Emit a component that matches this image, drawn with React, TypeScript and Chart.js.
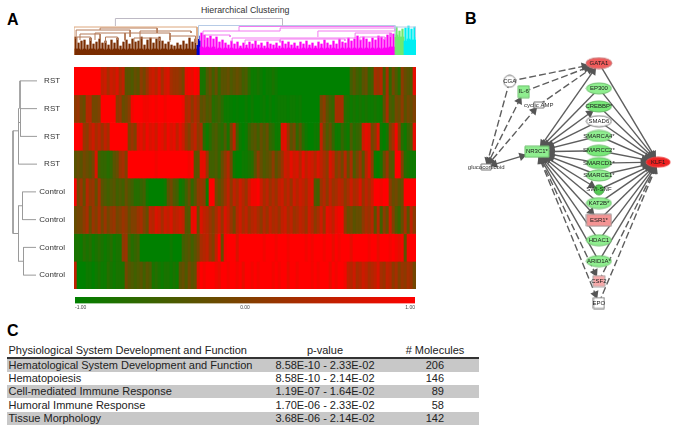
import React, { useEffect, useRef } from "react";
import { Chart, registerables } from "chart.js";
Chart.register(...registerables);

const FONT = "'Liberation Sans', Arial, sans-serif";

/* ---------- heat map ---------- */
const sampleLabels = ["RST", "RST", "RST", "RST", "Control", "Control", "Control", "Control"];
const rowA = [1,1,1,1,1,1,1,1,1,.5,
  .6,.3,.6,.5,.7,.3,.5,-.3,-.3,-.4,
  -.2,-.3,.1,-.1,.2,.5,.6,.4,.7,.3,
  .6,.7,.3,.2,.2,.1,-.1,.8,.9,.8,
  1,.9,-.8,-.8,-.4,-.2,-.5,-.2,-.6,-.3,
  -.3,-.2,-.4,-.3,-.2,-.3,-.5,-.4,-.7,-.9,
  -.9,-.8,-.9,-1,-.9,-.9,-.8,-.9,-1,-1,
  -1,-1,-1,-1,-1,-1,-1,-1,-1,-1,
  -1,-1,-1,-1,-1,-1,-1,-1,-1,-1,
  -1,-1,-.5,-.3,-.5,-.6,-.3,-.2,-.6,-.5,
  .3,.2,.4,-.5,.3,-.6,-.1,-.4,-.7,.1,
  -.2,-.3,-.4,.8];
const rowB = [.1,.2,-.1,-.2,.4,.4,-.1,-.1,0,1,
  1,1,1,1,.1,.2,-.2,-.1,.1,.9,
  1,1,1,.9,.9,.95,1,.9,1,1,
  .9,1,1,1,1,1,.9,.3,.4,.1,
  .4,.2,-.3,-.2,-.4,-.3,-.7,-.6,-.5,-.7,
  -.9,-.9,-.95,-1,-.95,-1,-1,-.9,-1,-.9,
  -1,-1,-.95,-.9,-1,-.9,-1,-.95,-.9,-.9,
  -.9,-.95,-.9,-.9,-.95,-.9,-1,-1,-1,-1,
  -1,-1,-.1,.1,-.3,-.5,-.6,.3,.3,.3,
  -.7,-.8,-.9,-.8,-.9,-.8,-.9,-.8,-.9,-.9,
  -.8,-.9,-.9,-.3,.3,-.4,-.5,-.1,-.2,.1,
  -.3,-.1,-.2,0];
const rowC = [1,1,.9,.2,.1,.4,.6,.3,.5,.2,
  .5,.3,1,1,1,1,1,1,0,.2,
  0,.7,.8,.6,.9,.7,.8,.6,.9,.8,
  .6,.9,.7,.8,.5,.8,.6,.2,0,.3,
  .5,.1,.3,-.7,-.9,-.7,-.5,-.4,-.6,-.7,
  -.4,-.8,-.1,.5,-.5,-.9,-1,-.9,-.6,-.4,
  -.3,-.5,-.2,-.4,-.2,-.6,-.7,-.9,-.9,.7,
  .8,.2,-.3,-.1,-.6,-.3,-.7,-.9,-1,-1,
  -.9,-.9,.5,-.1,-.4,-.2,-.6,-.9,-.9,-.6,
  -.8,-.9,-.4,-.7,-.6,-.5,.6,.8,.7,-.1,
  .1,.7,-.9,-1,-.8,0,.3,.9,.1,-.7,
  -.9,-.6,-.4,.8];
const rowD = [-.3,-.2,-.3,-.1,-.2,-.3,-.1,.7,-.5,-.6,
  -.6,-.7,-.6,-.3,-.2,.2,.3,0,1,1,
  1,1,1,1,1,1,1,.9,1,1,
  1,1,1,1,1,1,1,1,.9,1,
  -.3,-.3,.8,.8,.2,-.5,-.5,-.4,-.6,-.2,
  .1,.4,-.1,-.9,-1,-1,-.9,-.9,-.8,-.7,
  -.3,.1,-.2,-.4,-.3,-.2,.1,-.3,-.1,.2,
  .6,.5,.8,.6,.7,.4,.8,.5,.7,.6,
  .4,.7,.5,.3,.1,.7,.5,0,.2,-.1,
  .4,-.2,.3,-.4,-.1,.2,-.3,.4,.7,.1,
  -.9,-1,-.8,-.2,.2,-.3,-.4,1,1,0,
  -.7,-.8,-.9,-.9];
const rowE = [.9,-.1,.2,-.2,.4,.1,.2,-.2,.3,-.3,
  -.4,-.5,-.4,-.3,-.5,-.4,-.5,-.2,-.4,-.5,
  -.7,-.7,-.6,-.5,-.9,-1,-1,-1,-1,-1,
  -.9,-.3,-.1,-.4,-.5,-.9,-.8,-.5,-.2,-.6,
  -.3,.1,.2,.1,-.9,1,1,-.1,-.3,-.1,
  .2,.5,.1,.5,.3,.6,.4,.2,.6,.9,
  .9,1,.6,.3,.5,.2,.4,.2,.5,.6,
  .3,.5,.2,.6,.4,.6,.5,.3,.6,.7,
  -.4,-.5,.2,.4,.1,.5,.2,.3,.5,.4,
  .1,.3,.6,.3,.4,.7,.2,.5,.3,.6,
  1,1,.9,1,1,.1,-.2,-.1,-.3,-.2,
  1,1,1,1];
const rowF = [-.2,-.1,-.1,.1,.3,-.2,.2,0,.3,-.1,
  .2,-.1,.1,.2,-.1,0,.2,.1,-.2,0,
  0,.2,.3,0,-.2,.5,.4,.7,.6,.3,
  .6,.5,.7,.4,.5,.6,.5,-.3,-.4,.8,
  .9,-.2,.7,.5,.4,.2,0,.3,.6,.2,
  .7,.5,.2,-.1,.4,.6,.3,.5,.2,.4,
  .5,.3,.1,.4,.2,.5,.3,.4,.2,.5,
  .6,.3,.5,.2,.3,.5,.4,.2,.6,.4,
  .1,.3,.6,.2,.8,.7,.5,.8,.9,.9,
  .1,-.2,-.1,-.3,-.2,-.2,.1,.3,.2,.4,
  -.3,.4,-.5,.1,-.2,.6,0,-.4,-.6,-.2,
  .3,-.3,.5,.1];
const rowG = [-.8,-.8,-.9,-.7,-.8,-.7,-.9,-.8,-.7,-.8,
  -.9,-.8,-.7,-.9,-.8,-.8,.1,.2,-.5,-.7,
  -.6,-.5,-1,-1,-1,-1,-1,-1,-1,-1,
  -1,-1,-.9,-1,-1,-1,-.5,-.4,-.3,-.5,
  -.3,-.1,.3,.4,.5,.2,0,.5,1,-.2,
  .9,1,1,1,.7,1,1,1,1,1,
  1,1,1,.9,1,1,1,.9,1,1,
  1,.9,1,1,1,1,1,.9,1,.9,
  1,1,1,.9,1,1,.8,1,.9,1,
  1,1,.8,1,1,1,1,1,.9,1,
  1,.8,1,1,1,.9,1,.9,.8,.9,
  -.3,.9,1,1];
const rowH = [.5,-1,-1,-1,-.9,-.9,-1,-.9,-.8,-.9,
  -.9,-.7,-.8,-.9,-.8,-.8,-.8,-.1,-.3,-.4,
  -.5,-.4,-.3,-.5,-.3,-.4,-.8,-.7,-.8,-.9,
  -.8,-.8,-.9,-.8,-.9,-.3,-.2,-.4,-.1,-.3,
  -.2,.7,1,.9,1,1,1,.9,.8,1,
  1,.9,1,1,.9,1,.8,1,1,.9,
  1,.9,1,1,1,1,.9,1,.9,1,
  1,.8,1,1,.9,1,1,1,1,.9,
  1,.9,1,1,1,.8,1,.9,1,1,
  .9,.5,.4,.6,.3,.4,.6,.5,.3,.4,
  .5,.7,.3,.2,.5,.4,.1,.3,0,.2,
  .1,.3,.2,-.1];
const heatRows = [rowA, rowB, rowC, rowD, rowE, rowF, rowG, rowH];

/* ---------- sample dendrogram: [x1, y1, x2, y2] in distance / row units ---------- */
const sampleTree = [
  [20,.5,37,.5],[20,1.5,37,1.5],[20.5,2.5,37,2.5],[18.5,3.5,37,3.5],
  [22.5,4.5,36,4.5],[22.5,5.5,36,5.5],[23.5,6.5,36,6.5],[23.5,7.5,36,7.5],
  [20,.5,20,1.5],[20.5,1.5,20.5,2.5],[19,2,20.5,2],[18.5,1.5,18.5,3.5],
  [13,2.3,19,2.3],[13,2.3,13,6],[13,6,18.5,6],[18.5,5,18.5,7],
  [18.5,5,22.5,5],[22.5,4.5,22.5,5.5],[18.5,7,23.5,7],[23.5,6.5,23.5,7.5],
];

/* ---------- gene dendrogram ---------- */
const stemHeights = [18,12,14,15,10,17,11,13,16,12,
  14,10,15,12,17,9,13,15,11,16,
  13,14,18,10,15,17,12,16,18,14,
  11,13,10,9,12,10,14,11,17,13,
  16,19,22,20,17,19,16,18,13,15,
  12,10,14,11,13,9,12,10,13,11,
  14,10,12,9,13,11,10,12,9,14,
  11,13,10,12,9,13,11,14,10,12,
  9,13,11,15,12,10,14,11,16,13,
  12,17,14,16,19,15,18,16,13,17,
  15,19,18,16,20,22,21,28,24,26,
  27,29,26,28];
const baseHeights = [6,6,5,6,5,6,6,5,6,6,
  5,6,5,6,6,5,6,5,6,6,
  5,6,6,5,6,5,6,6,5,6,
  6,5,6,5,6,6,5,6,6,5,
  6,14,8,7,8,7,8,6,7,6,
  7,6,7,6,6,7,6,7,6,6,
  7,6,7,6,7,6,6,7,6,7,
  6,7,6,7,6,6,7,6,7,6,
  7,6,7,6,7,6,7,6,6,7,
  6,7,6,7,6,7,6,7,6,7,
  6,7,6,7,7,8,8,20,18,18,
  14,16,15,15];
const clusterSizes = [41, 1, 65, 3, 4];
const clusterColors = ["#7a2c00", "#0000cc", "#ff00f5", "#6fe96f", "#00eef2"];
/* [left, right, top, leftFoot, rightFoot] */
const rootBracket = [[13.8,69.5,36.5,29,29.5]];
const tanBrackets = [[0,41,28,0,10]];
const brownBrackets = [[.7,18.7,25,16,18],[8.7,27.7,27,25,22],[2,8.7,21,15,16],[7,17,22,15,15],[17,32,22,14,15],[22,39,24,14,22],[1,5.5,18,12,14],[10.5,14.5,18,12,15],[20,28.5,17,13,14],[32,40.5,19,13,12]];
const paleBrackets = [[41.5,107,29.5,16,26],[107,114,28,18,18]];
const magentaBrackets = [[55,107,28.5,24,26],[68.7,107,27,24,24],[81.3,107,24,18,24],[43,68.7,24,20,24],[43.7,52,20,15,18],[52.7,93.7,17,13,18],[68.7,90.3,16,12,14],[93.7,105.3,22,16,18],[95.3,103.7,18,14,15],[57,68.7,15,11,13]];

/* ---------- network ---------- */
const nodeNames = ["GATA1","EP300","CREBBP*","SMAD6","SMARCA4*","SMARCC2*","SMARCD1*","SMARCE1*","SWI-SNF","KAT2B*","ESR1*","HDAC1","ARID1A*","CSF2","EPO","KLF1","NR3C1*","CGA","IL-6","cyclic AMP","glucocorticoid"];
const nodeX = [601,601,601,601,601,601,601,601,601,601,601,601,601,601,601,664,535,506,521,537,481];
const nodeY = [57,83.5,102.5,118,133.5,149,162,175,190,204,222,243,265,286,309,161,150,76,87,101,166];
const edgeFrom = ["CGA","IL-6","cyclic AMP","CGA","glucocorticoid","glucocorticoid","glucocorticoid","NR3C1*","NR3C1*","NR3C1*","NR3C1*","NR3C1*","NR3C1*","NR3C1*","NR3C1*","NR3C1*","NR3C1*","NR3C1*","NR3C1*","NR3C1*","NR3C1*","NR3C1*","GATA1","EP300","CREBBP*","SMAD6","SMARCA4*","SMARCC2*","SMARCD1*","SMARCE1*","SWI-SNF","KAT2B*","ESR1*","HDAC1","ARID1A*","CSF2","EPO"];
const edgeTo = ["GATA1","GATA1","GATA1","glucocorticoid","IL-6","cyclic AMP","NR3C1*","GATA1","EP300","CREBBP*","SMAD6","SMARCA4*","SMARCC2*","SMARCD1*","SMARCE1*","SWI-SNF","KAT2B*","ESR1*","HDAC1","ARID1A*","CSF2","EPO","KLF1","KLF1","KLF1","KLF1","KLF1","KLF1","KLF1","KLF1","KLF1","KLF1","KLF1","KLF1","KLF1","KLF1","KLF1"];
const dashedEdges = [0,1,2,3,4,5,20,21,35,36];
const arrowAtStart = [4,5,6,7,8,9,10,11,12,13,14,15,16,17,18,19,20,21];
const arrowAtEnd = [0,1,2,3,4,5,6,7,9,15,17,20,21,22,23,24,25,26,27,28,29,30,31,32,33,34,35,36];

/* ---------- table ---------- */
const tableHeader = ["Physiological System Development and Function", "p-value", "# Molecules"];
const tableNames = ["Hematological System Development and Function", "Hematopoiesis", "Cell-mediated Immune Response", "Humoral Immune Response", "Tissue Morphology"];
const tablePValues = ["8.58E-10 - 2.33E-02", "8.58E-10 - 2.14E-02", "1.19E-07 - 1.64E-02", "1.70E-06 - 2.33E-02", "3.68E-06 - 2.14E-02"];
const tableMolecules = [206, 146, 89, 58, 142];

function heatColor(v: number) {
  const t = (v + 1) / 2;
  return `rgb(${Math.round(255 * t)},${Math.round(128 * (1 - t))},0)`;
}

const hidden = { display: false };
const quiet = { legend: { display: false }, tooltip: { enabled: false }, title: { display: false } };

function heatConfig(): any {
  const cols = rowA.map((_, i) => String(i + 1));
  return {
    type: "bar",
    data: {
      labels: cols,
      datasets: heatRows.map((r) => ({
        data: r.map(() => 1),
        backgroundColor: r.map(heatColor),
        borderWidth: 0,
        barPercentage: 1,
        categoryPercentage: 1,
        stack: "s",
      })),
    },
    options: {
      animation: false, responsive: false, plugins: quiet,
      layout: { padding: 0 },
      scales: {
        x: { display: false, stacked: true },
        y: {
          stacked: true, reverse: true, min: 0, max: 8, offset: false,
          border: { display: false }, grid: { display: false, drawTicks: false },
          afterBuildTicks: (s: any) => { s.ticks = sampleLabels.map((_, i) => ({ value: i + .5 })); },
          afterFit: (s: any) => { s.width = 74; s.paddingTop = 0; s.paddingBottom = 0; },
          ticks: {
            autoSkip: false, crossAlign: "center", padding: 9, color: "#333",
            font: { family: FONT, size: 8 },
            callback: (v: number) => sampleLabels[Math.floor(v)],
          },
        },
      },
    },
  };
}

function treeConfig(): any {
  return {
    type: "scatter",
    data: {
      datasets: sampleTree.map((s) => ({
        data: [{ x: s[0], y: s[1] }, { x: s[2], y: s[3] }],
        showLine: true, borderColor: "#9a9a9a", borderWidth: 1, pointRadius: 0,
      })),
    },
    options: {
      animation: false, responsive: false, plugins: quiet,
      scales: { x: { ...hidden, min: 0, max: 40 }, y: { ...hidden, min: 0, max: 8, reverse: true } },
    },
  };
}

function bracketSets(list: number[][], color: string) {
  return list.map((b) => ({
    type: "line",
    data: [{ x: b[0], y: b[3] }, { x: b[0], y: b[2] }, { x: b[1], y: b[2] }, { x: b[1], y: b[4] }],
    borderColor: color, borderWidth: 1, pointRadius: 0, tension: 0,
  }));
}

function geneTreeConfig(): any {
  const colors: string[] = [];
  clusterSizes.forEach((n, c) => { for (let i = 0; i < n; i++) colors.push(clusterColors[c]); });
  const xy = (a: number[]) => a.map((y, i) => ({ x: i + .5, y }));
  return {
    type: "bar",
    data: {
      datasets: [
        ...bracketSets(rootBracket, "#bdb9c4"),
        ...bracketSets(tanBrackets, "#dca67c"),
        ...bracketSets(paleBrackets, "#b6cbe6"),
        ...bracketSets(brownBrackets, "#b47a58"),
        ...bracketSets(magentaBrackets, "#f27af0"),
        { data: xy(baseHeights), backgroundColor: colors, barThickness: 3.1, borderWidth: 0, grouped: false },
        { data: xy(stemHeights), backgroundColor: colors, barThickness: 1.6, borderWidth: 0, grouped: false },
      ],
    },
    options: {
      animation: false, responsive: false, plugins: quiet,
      scales: { x: { type: "linear", offset: false, display: false, min: 0, max: 114 }, y: { display: false, min: 0, max: 38 } },
    },
  };
}

function barConfig(): any {
  return {
    type: "bar",
    data: {
      labels: ["scale"],
      datasets: [{
        data: [[-1, 1]],
        barPercentage: 1, categoryPercentage: 1, borderWidth: 0,
        backgroundColor: (ctx: any) => {
          const a = ctx.chart.chartArea;
          if (!a) return "#000";
          const g = ctx.chart.ctx.createLinearGradient(a.left, 0, a.right, 0);
          g.addColorStop(0, heatColor(-1));
          g.addColorStop(.5, heatColor(0));
          g.addColorStop(1, heatColor(1));
          return g;
        },
      }],
    },
    options: {
      indexAxis: "y", animation: false, responsive: false, plugins: quiet,
      scales: {
        y: { display: false },
        x: {
          min: -1, max: 1, offset: false, border: { display: false },
          grid: { display: false, drawTicks: false },
          afterBuildTicks: (s: any) => { s.ticks = [{ value: -1 }, { value: 0 }, { value: 1 }]; },
          ticks: {
            align: "inner", maxRotation: 0, autoSkip: false, padding: 1, color: "#444",
            font: { family: FONT, size: 5 },
            callback: (v: number) => v.toFixed(2),
          },
        },
      },
    },
  };
}

function nodeStyle(name: string) {
  const ellipse = (fill: string, stroke: string, rx = 12.5, ry = 5.5) => ({ kind: "e", fill, stroke, rx, ry });
  const box = (fill: string, stroke: string, rx: number, ry: number) => ({ kind: "r", fill, stroke, rx, ry });
  const g = "#8fee8f", gs = "#6fbf6f";
  switch (name) {
    case "GATA1": return ellipse("#f05c5c", "#c98080", 13, 5.5);
    case "KLF1": return ellipse("#ee2222", "#ee4444", 12, 5);
    case "SMAD6": return ellipse("#ffffff", "#777777");
    case "CREBBP*": case "SMARCC2*": case "SMARCD1*": return ellipse("#78e878", "#66bb66");
    case "SWI-SNF": return ellipse("#55cc55", "#449944", 5, 5);
    case "CGA": return ellipse("#ffffff", "#777777", 6, 6);
    case "ESR1*": return box("#f49494", "#999999", 12.5, 6);
    case "CSF2": return box("#f7aaaa", "#aaaaaa", 6, 5.5);
    case "EPO": return box("#ffffff", "#777777", 5.5, 5.5);
    case "NR3C1*": return box(g, gs, 12, 5.5);
    case "IL-6": return box(g, gs, 5.5, 6);
    case "cyclic AMP": return box("#ffffff", "#777777", 5, 3);
    case "glucocorticoid": return box("#ffffff", "#777777", 5, 3);
    default: return ellipse(g, gs);
  }
}

function nodeCanvas(name: string) {
  const s = nodeStyle(name);
  const c = document.createElement("canvas");
  c.width = Math.ceil(s.rx * 2 + 2);
  c.height = Math.ceil(s.ry * 2 + 2);
  const g = c.getContext("2d")!;
  g.fillStyle = s.fill;
  g.strokeStyle = s.stroke;
  g.lineWidth = 1;
  g.beginPath();
  if (s.kind === "e") g.ellipse(c.width / 2, c.height / 2, s.rx, s.ry, 0, 0, Math.PI * 2);
  else g.rect(c.width / 2 - s.rx, c.height / 2 - s.ry, s.rx * 2, s.ry * 2);
  g.fill();
  g.stroke();
  return c;
}

function boundary(name: string, cos: number, sin: number) {
  const s = nodeStyle(name);
  if (s.kind === "e") return 1 / Math.sqrt((cos / s.rx) ** 2 + (sin / s.ry) ** 2);
  return Math.min(s.rx / Math.max(Math.abs(cos), 1e-6), s.ry / Math.max(Math.abs(sin), 1e-6));
}

function networkConfig(): any {
  const at = (n: string) => { const i = nodeNames.indexOf(n); return { x: nodeX[i], y: nodeY[i] }; };
  const arrows: any[] = [];
  const head = (from: string, to: string) => {
    const a = at(from), b = at(to);
    const dx = b.x - a.x, dy = b.y - a.y, len = Math.hypot(dx, dy);
    const cos = dx / len, sin = dy / len;
    const d = boundary(to, cos, sin) + 4;
    arrows.push({ x: b.x - cos * d, y: b.y - sin * d, r: (Math.atan2(dy, dx) * 180) / Math.PI + 90 });
  };
  edgeFrom.forEach((f, i) => {
    if (arrowAtEnd.includes(i)) head(f, edgeTo[i]);
    if (arrowAtStart.includes(i)) head(edgeTo[i], f);
  });
  const labelPlugin = {
    id: "nodeLabels",
    afterDatasetsDraw(chart: any) {
      const { ctx, scales } = chart;
      ctx.save();
      ctx.font = `6px ${FONT}`;
      ctx.textAlign = "center";
      ctx.textBaseline = "middle";
      nodeNames.forEach((n, i) => {
        ctx.fillStyle = n === "cyclic AMP" || n === "glucocorticoid" ? "#333" : "#1a1a1a";
        ctx.fillText(n, scales.x.getPixelForValue(nodeX[i]), scales.y.getPixelForValue(nodeY[i]));
      });
      ctx.restore();
    },
  };
  return {
    type: "scatter",
    data: {
      datasets: [
        {
          data: nodeNames.map((n) => at(n)),
          pointStyle: nodeNames.map(nodeCanvas),
          pointRadius: 6,
        },
        {
          data: arrows.map((a) => ({ x: a.x, y: a.y })),
          pointStyle: "triangle",
          pointRadius: 5,
          pointRotation: arrows.map((a) => a.r),
          backgroundColor: "#555555",
          borderColor: "#555555",
          borderWidth: 0,
        },
        ...edgeFrom.map((f, i) => ({
          data: [at(f), at(edgeTo[i])],
          showLine: true,
          borderColor: "#5e5e5e",
          borderWidth: 1.4,
          borderDash: dashedEdges.includes(i) ? [7, 3] : [],
          pointRadius: 0,
        })),
      ],
    },
    plugins: [labelPlugin],
    options: {
      animation: false, responsive: false, plugins: quiet,
      scales: { x: { ...hidden, min: 450, max: 683 }, y: { ...hidden, min: 40, max: 330, reverse: true } },
    },
  };
}

function ChartBox({ left, top, width, height, make }: any) {
  const ref = useRef<HTMLCanvasElement>(null);
  useEffect(() => {
    const chart = new Chart(ref.current!, make());
    return () => chart.destroy();
  }, []);
  return <canvas ref={ref} width={width} height={height} style={{ position: "absolute", left, top, width, height }} />;
}

const text = (left: number, top: number, s: any, extra: any = {}) => (
  <div style={{ position: "absolute", left, top, whiteSpace: "nowrap", fontFamily: FONT, color: "#222", ...extra }}>{s}</div>
);

export default function App() {
  const rowTop = [358.7, 372, 385, 398.5, 412];
  return (
    <div style={{ position: "fixed", left: 0, top: 0, width: 683, height: 432, overflow: "hidden", background: "#fff", filter: "blur(0.35px)" }}>
      {text(7, 11, "A", { fontWeight: "bold", fontSize: 16, color: "#000" })}
      {text(465, 10, "B", { fontWeight: "bold", fontSize: 16, color: "#000" })}
      {text(7, 322, "C", { fontWeight: "bold", fontSize: 16, color: "#000" })}
      {text(201, 5, "Hierarchical Clustering", { fontSize: 8.8, color: "#333" })}
      <ChartBox left={74} top={17} width={342} height={38} make={geneTreeConfig} />
      <ChartBox left={0} top={67} width={416} height={222} make={heatConfig} />
      <ChartBox left={0} top={67} width={40} height={222} make={treeConfig} />
      <ChartBox left={74} top={297} width={342} height={13} make={barConfig} />
      <ChartBox left={450} top={40} width={233} height={290} make={networkConfig} />
      {text(8.5, 344, tableHeader[0], { fontSize: 11 })}
      {text(265, 344, tableHeader[1], { fontSize: 11, width: 120, textAlign: "center" })}
      {text(385, 344, tableHeader[2], { fontSize: 11, width: 100, textAlign: "center" })}
      <div style={{ position: "absolute", left: 7, top: 357, width: 472, height: 1.5, background: "#333" }} />
      {tableNames.map((n, i) => (
        <React.Fragment key={n}>
          {i % 2 === 0 && <div style={{ position: "absolute", left: 7, top: rowTop[i], width: 472, height: 13.3, background: "#c8c8c8" }} />}
          {text(8.5, rowTop[i] + .2, n, { fontSize: 11 })}
          {text(265, rowTop[i] + .2, tablePValues[i], { fontSize: 11, width: 120, textAlign: "center" })}
          {text(400, rowTop[i] + .2, tableMolecules[i], { fontSize: 11, width: 44, textAlign: "right" })}
        </React.Fragment>
      ))}
    </div>
  );
}
